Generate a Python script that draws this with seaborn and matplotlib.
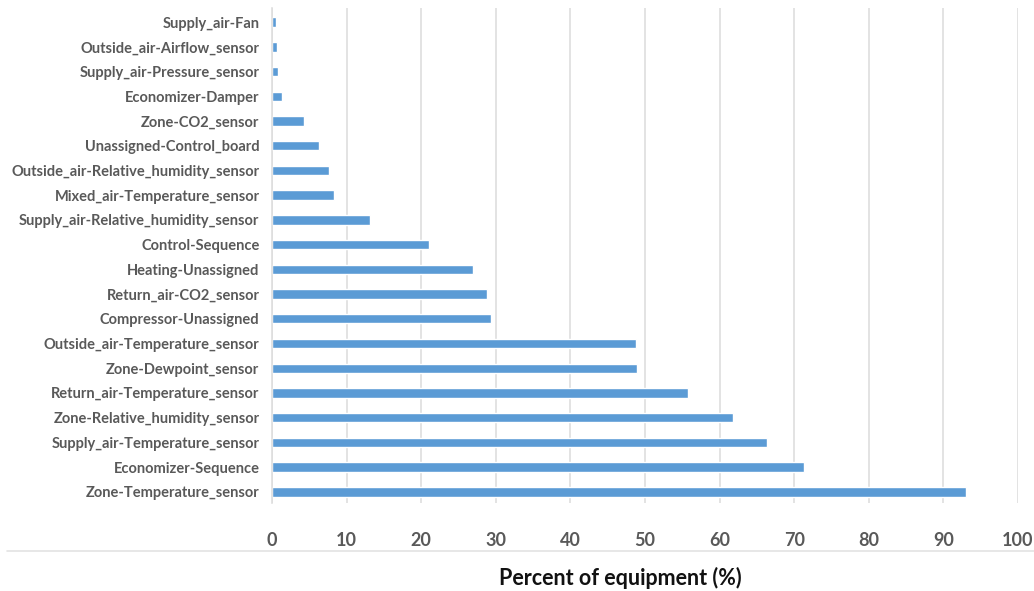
import matplotlib
matplotlib.use("Agg")
import matplotlib.pyplot as plt
from matplotlib.lines import Line2D
import seaborn as sns
import pandas as pd

# Equipment / point categories, listed top to bottom
categories = [
    "Supply_air-Fan",
    "Outside_air-Airflow_sensor",
    "Supply_air-Pressure_sensor",
    "Economizer-Damper",
    "Zone-CO2_sensor",
    "Unassigned-Control_board",
    "Outside_air-Relative_humidity_sensor",
    "Mixed_air-Temperature_sensor",
    "Supply_air-Relative_humidity_sensor",
    "Control-Sequence",
    "Heating-Unassigned",
    "Return_air-CO2_sensor",
    "Compressor-Unassigned",
    "Outside_air-Temperature_sensor",
    "Zone-Dewpoint_sensor",
    "Return_air-Temperature_sensor",
    "Zone-Relative_humidity_sensor",
    "Supply_air-Temperature_sensor",
    "Economizer-Sequence",
    "Zone-Temperature_sensor",
]
percent = [
    0.5, 0.7, 0.8, 1.3, 4.3, 6.3, 7.7, 8.3, 13.1, 21.1,
    27.0, 28.8, 29.3, 48.8, 48.9, 55.7, 61.8, 66.3, 71.3, 93.0,
]
x_ticks = [0, 10, 20, 30, 40, 50, 60, 70, 80, 90, 100]

df = pd.DataFrame({"category": categories, "percent": percent})

sns.set_theme(style="white")
plt.rcParams["font.family"] = ["Lato", "DejaVu Sans"]

W, H = 1034, 591
fig = plt.figure(figsize=(W / 100, H / 100), dpi=100)
ax = fig.add_axes([272 / W, 1 - 503 / H, (1018 - 272) / W, (503 - 8) / H])

sns.barplot(data=df, x="percent", y="category", order=categories,
            color="#5b9bd5", saturation=1, width=0.38, ax=ax)

ax.set_xlim(0, 100)
ax.set_ylim(len(categories) - 1 + 0.45, -0.57)
ax.set_xticks(x_ticks)
ax.xaxis.grid(True, color="#dedede", linewidth=1.2)
ax.set_axisbelow(True)
for side in ("top", "right", "bottom"):
    ax.spines[side].set_visible(False)
ax.spines["left"].set_color("#dedede")
ax.spines["left"].set_linewidth(1.2)
ax.tick_params(axis="both", length=0)
ax.tick_params(axis="y", pad=9, labelsize=10.5, labelcolor="#595959")
ax.tick_params(axis="x", pad=21, labelsize=13, labelcolor="#595959")
for lbl in ax.get_yticklabels() + ax.get_xticklabels():
    lbl.set_fontweight("bold")
ax.set_ylabel("")
ax.set_xlabel("")

fig.text(620 / W, 1 - 578 / H, "Percent of equipment (%)", ha="center",
         va="center", fontsize=15.5, fontweight="bold", color="#111111")

# faint sheet border under the chart
fig.add_artist(Line2D([7 / W, 1.0], [1 - 551 / H] * 2, color="#e3e3e3",
                      linewidth=1.2, transform=fig.transFigure))

fig.savefig("out.png", dpi=100, facecolor="white")
